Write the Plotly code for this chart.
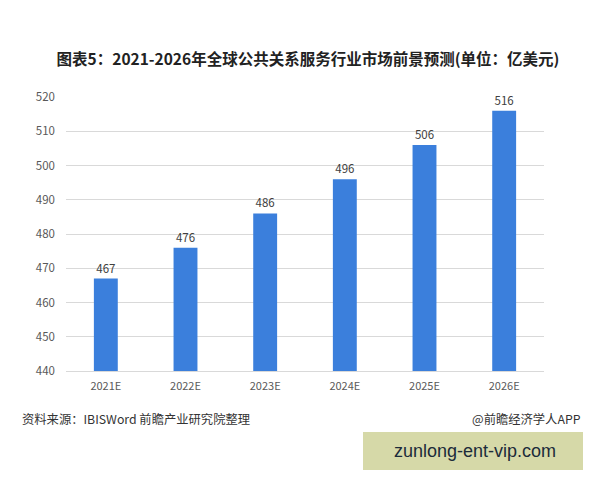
import plotly.graph_objects as go

categories = ["2021E", "2022E", "2023E", "2024E", "2025E", "2026E"]
values = [467, 476, 486, 496, 506, 516]
y_ticks = [440, 450, 460, 470, 480, 490, 500, 510, 520]

title_text = "图表5：2021-2026年全球公共关系服务行业市场前景预测(单位：亿美元)"
source_text = "资料来源：IBISWord 前瞻产业研究院整理"
brand_text = "@前瞻经济学人APP"
stamp_text = "zunlong-ent-vip.com"

FONT = "Noto Sans CJK SC, Microsoft YaHei, sans-serif"

# page body adds an 8px offset; compensate
OFF = 8
W, H = 600, 480
PL, PR, PT, PB = 66 - OFF, 544 - OFF, 97 - OFF, 371 - OFF
PW, PH = PR - PL, PB - PT


def px(x):
    return (x - OFF - PL) / PW


def py(y):
    return (PB - (y - OFF)) / PH


fig = go.Figure()
fig.add_trace(go.Bar(
    x=categories, y=values,
    marker=dict(color="#3b7fdc", line=dict(width=0)),
    width=0.3,
    text=[str(v) for v in values],
    textposition="outside",
    textfont=dict(size=11.5, color="#404040", family=FONT),
    cliponaxis=False,
))

fig.update_layout(
    width=W, height=H,
    margin=dict(l=PL, r=W - PR, t=PT, b=H - PB),
    paper_bgcolor="white", plot_bgcolor="white",
    showlegend=False,
    font=dict(family=FONT, color="#595959", size=11),
    title=dict(text="<b>" + title_text + "</b>", x=0.5, xanchor="center",
               y=1 - (60 - OFF) / H, yanchor="middle",
               font=dict(size=15.5, color="#222222", family=FONT)),
    xaxis=dict(showgrid=False, showline=True, linecolor="#d9d9d9", linewidth=1,
               ticks="", ticklabelstandoff=5, tickfont=dict(size=11, color="#595959")),
    yaxis=dict(range=[440, 520], tickvals=y_ticks, showgrid=True,
               gridcolor="#d9d9d9", gridwidth=1, zeroline=False,
               showline=False, ticks="", ticklabelstandoff=10,
               tickfont=dict(size=11.5, color="#595959")),
    annotations=[
        dict(text=source_text, xref="paper", yref="paper", x=px(20), y=py(419),
             xanchor="left", yanchor="middle", showarrow=False,
             font=dict(size=12.3, color="#333333", family=FONT)),
        dict(text=brand_text, xref="paper", yref="paper", x=px(583), y=py(419),
             xanchor="right", yanchor="middle", showarrow=False,
             font=dict(size=12.3, color="#333333", family=FONT)),
    ],
    shapes=[
        dict(type="rect", xref="paper", yref="paper",
             x0=px(363), x1=px(583), y0=py(470), y1=py(432),
             fillcolor="#d6d9a8", line=dict(width=0), layer="above"),
    ],
)
fig.add_annotation(text=stamp_text, xref="paper", yref="paper",
                   x=px(475), y=py(451),
                   xanchor="center", yanchor="middle", showarrow=False,
                   font=dict(size=18, color="#1c2b3a", family="Liberation Sans, Arial, sans-serif"))

fig.write_html("out.html")
